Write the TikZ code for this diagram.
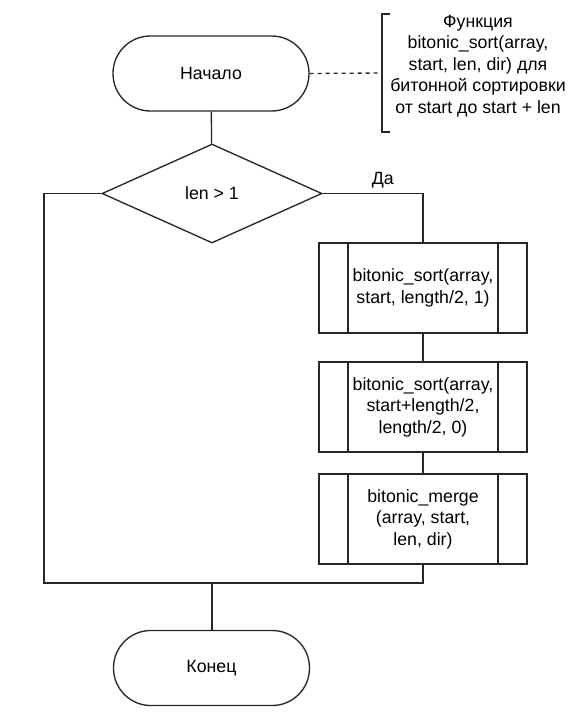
\documentclass[tikz,border=0pt]{standalone}
\usepackage{fontspec}
\setmainfont{Liberation Sans}
\usetikzlibrary{shapes.geometric}
\begin{document}
\begin{tikzpicture}
      [x=0.75pt, y=-0.75pt, line width=1pt, draw=black!85,
       font=\fontsize{13.3}{16.1}\selectfont,
       term/.style={draw, rounded corners=28pt, minimum width=147pt, minimum height=56.25pt},
       cond/.style={draw, diamond, aspect=2.2, inner sep=0pt, minimum width=165pt, minimum height=74.25pt},
       sub/.style={draw, align=center, minimum width=156pt, minimum height=67.5pt,
         path picture={\draw ([xshift=21.75pt]path picture bounding box.north west) -- ([xshift=21.75pt]path picture bounding box.south west);
                       \draw ([xshift=-21.75pt]path picture bounding box.north east) -- ([xshift=-21.75pt]path picture bounding box.south east);}}]
      \useasboundingbox (0, 0) rectangle (582, 721);
      \node[term](1) at (211, 73.5) {Начало};
      \node[cond](2) at (212, 193.5) {len > 1};
      \node[sub](3) at (423, 288) {bitonic\_sort(array,\\start, length/2, 1)};
      \node[sub](4) at (423, 407) {bitonic\_sort(array,\\start+length/2,\\length/2, 0)};
      \node[sub](5) at (423, 519) {bitonic\_merge\\(array, start,\\len, dir)};
      \node[term](6) at (211.5, 668) {Конец};
      \node[align=center](7) at (478, 66) {Функция\\bitonic\_sort(array,\\start, len, dir) для\\битонной сортировки\\от start до start + len};
      \coordinate(a) at (390, 14);
      \coordinate(b) at (382, 73);
      \coordinate(c) at (390, 132);
      \coordinate(l) at (44, 583);
      \coordinate(m) at (212, 583);
      \draw(1) -- (2);
      \draw(2.east) -| node[pos=0.3, above]{Да} (3.north);
      \draw(3) -- (4);
      \draw(4) -- (5);
      \draw(2.west) -| (l) -| (5.south);
      \draw(m) -- (m |- 6.north);
      \draw(a) -| (b) |- (c);
      \draw[dashed](1.east) -- (b);
  \end{tikzpicture}
\end{document}
